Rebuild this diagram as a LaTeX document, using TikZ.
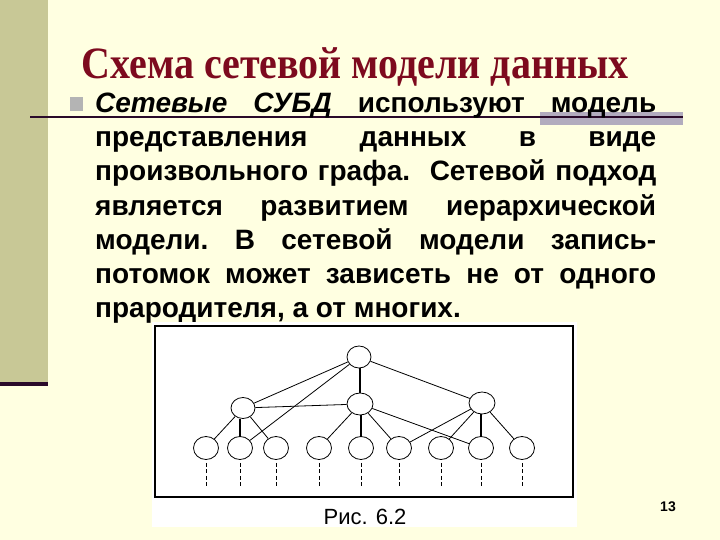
\documentclass[tikz,border=0pt]{standalone}
\usepackage{fontspec}
\usetikzlibrary{shapes.geometric}
\newfontfamily\arialf{Liberation Sans}
\newfontfamily\timesf{Liberation Serif}
\definecolor{bgc}{RGB}{255,255,225}
\definecolor{barc}{RGB}{200,200,150}
\definecolor{darkbar}{RGB}{42,10,42}
\definecolor{graybar}{RGB}{178,172,190}
\definecolor{bulletc}{RGB}{180,180,180}
\definecolor{titlec}{RGB}{125,10,30}
\tikzset{
  rec/.style={ellipse, draw, line width=0.8pt, inner sep=0pt, minimum width=25pt, minimum height=23pt, fill=white},
  edge/.style={line width=0.8pt},
  vedge/.style={line width=1.3pt},
  dline/.style={line width=0.9pt, dash pattern=on 4pt off 2.5pt},
  bodyline/.style={anchor=base west, inner sep=0pt, font=\arialf\bfseries\fontsize{28}{34}\selectfont\frenchspacing},
}
\begin{document}
\begin{tikzpicture}[x=1pt,y=-1pt]
\useasboundingbox (0,0) rectangle (720,540);
\fill[bgc] (0,0) rectangle (720,540);
\fill[barc] (0,0) rectangle (48,382);
\fill[darkbar] (0,382) rectangle (48,386);
% decorative line
\fill[graybar] (540,112) rectangle (683,125);
\draw[line width=2pt, darkbar] (30,117.5) -- (683,117.5);
\fill[bulletc] (70,97) rectangle (83,111);
% title
\node[anchor=base, inner sep=0pt, text=titlec, font=\timesf\bfseries\fontsize{40}{44}\selectfont] (title) at (355,79) {\scalebox{1}[1.12]{Схема сетевой модели данных}};
% body
\node[bodyline] (l1) at (95,113) {\makebox[561pt][s]{\textit{Сетевые} \textit{СУБД} используют модель}};
\node[bodyline] (l2) at (95,147) {\makebox[561pt][s]{представления данных в виде}};
\node[bodyline] (l3) at (95,181) {\makebox[561pt][s]{произвольного графа.\ \ Сетевой подход}};
\node[bodyline] (l4) at (95,215) {\makebox[561pt][s]{является развитием иерархической}};
\node[bodyline] (l5) at (95,249) {\makebox[561pt][s]{модели. В сетевой модели запись-}};
\node[bodyline] (l6) at (95,283) {\makebox[561pt][s]{потомок может зависеть не от одного}};
\node[bodyline] (l7) at (95,317) {прародителя, а от многих.};
% picture area
\fill[white] (152,322) rectangle (577,527);
\draw[line width=1.3pt] (155,326) rectangle (573,497);
% graph
\node[rec, minimum width=24pt, minimum height=22pt] (t) at (359,357) {};
\node[rec, minimum width=24pt, minimum height=21pt] (m1) at (243,408) {};
\node[rec, minimum width=26pt, minimum height=22pt] (m2) at (360,404) {};
\node[rec, minimum width=26pt, minimum height=22pt] (m3) at (482,403) {};
\foreach \i/\x in {1/206,2/240,3/276,4/319,5/361,6/399,7/441,8/481,9/522}{
  \node[rec] (b\i) at (\x,448) {};
  \coordinate (e\i) at (\x,486);
  \draw[dline, shorten <=3pt] (b\i) -- (e\i);
}
\draw[edge] (t) -- (m1);
\draw[edge] (t) -- (b2);
\draw[vedge] (t.south -| m2) -- (m2);
\draw[edge] (t) -- (m3);
\draw[edge] (m1) -- (m2);
\draw[edge] (m1) -- (b1);
\draw[vedge] (m1.south -| b2) -- (b2);
\draw[edge] (m1) -- (b3);
\draw[edge] (m2) -- (b4);
\draw[vedge] (m2.south -| b5) -- (b5);
\draw[edge] (m2) -- (b6);
\draw[edge] (m2) -- (b8);
\draw[edge] (m3) -- (b6);
\draw[edge] (m3) -- (b7);
\draw[vedge] (m3.south -| b8) -- (b8);
\draw[edge] (m3) -- (b9);
% caption
\node[anchor=base, inner sep=0pt, font=\arialf\fontsize{22}{26}\selectfont] (cap) at (365,524) {Рис. 6.2};
\node[anchor=base, inner sep=0pt, font=\arialf\bfseries\fontsize{14}{18}\selectfont] (pg) at (668,511) {13};
\end{tikzpicture}
\end{document}
